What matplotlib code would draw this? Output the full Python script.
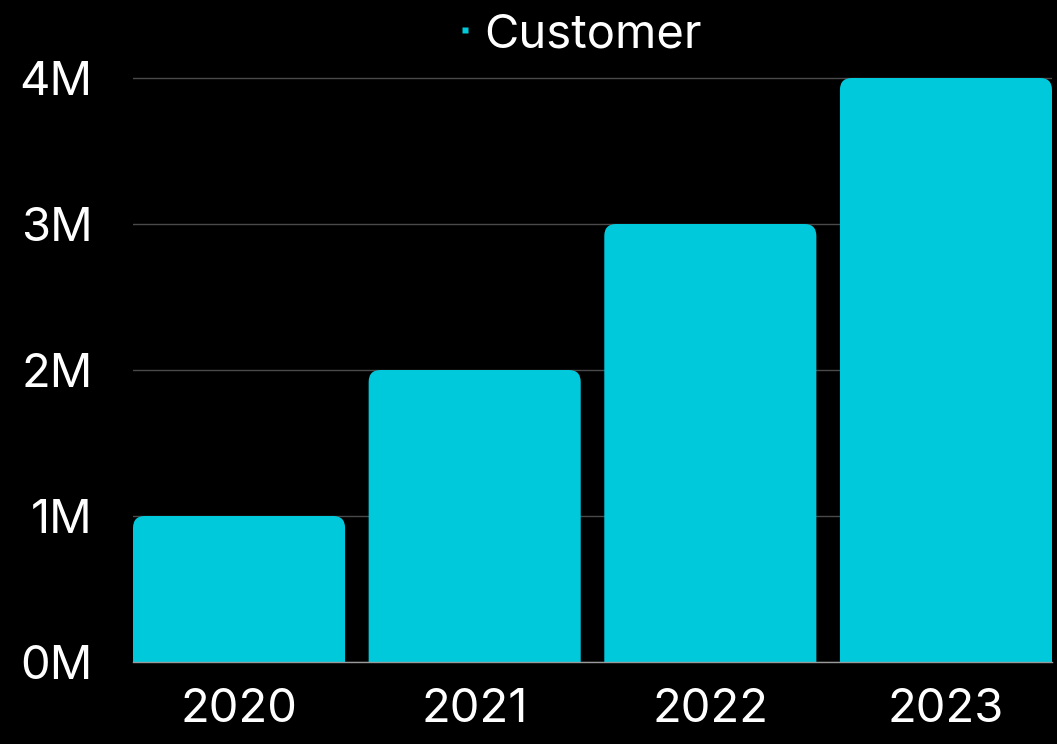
import matplotlib
matplotlib.use("Agg")
import matplotlib.pyplot as plt
from matplotlib.patches import FancyBboxPatch
from matplotlib.lines import Line2D

years = ["2020", "2021", "2022", "2023"]
customers = [1_000_000, 2_000_000, 3_000_000, 4_000_000]
yticks = [0, 1_000_000, 2_000_000, 3_000_000, 4_000_000]

bar_color = "#00C9DB"
plt.rcParams["font.family"] = ["Inter", "DejaVu Sans"]

W, H = 1057, 744
fig = plt.figure(figsize=(W / 100, H / 100), dpi=100, facecolor="black")
ax = fig.add_axes([133 / W, 82 / H, 919 / W, (662 - 63.4) / H], facecolor="black")

ax.set_xlim(-0.45, len(years) - 0.55)
ax.set_ylim(0, 4.1e6)

# pixel scales for the rounded tops
px_x = 919 / (len(years) - 0.1)        # px per x unit
px_y = (662 - 63.4) / 4.1e6            # px per y unit
rx = 12 / px_x
aspect = px_x / px_y

width = 0.9
for i, v in enumerate(customers):
    p = FancyBboxPatch((i - width / 2, -0.3e6), width, v + 0.3e6,
                       boxstyle=f"round,pad=0,rounding_size={rx}",
                       mutation_aspect=aspect,
                       facecolor=bar_color, edgecolor="none", zorder=3)
    ax.add_patch(p)

ax.set_xticks(range(len(years)))
ax.set_xticklabels(years)
ax.set_yticks(yticks)
ax.set_yticklabels([f"{int(t / 1e6)}M" for t in yticks])
ax.tick_params(axis="both", length=0, colors="white", labelsize=34, labelfontfamily="Inter")
ax.tick_params(axis="y", pad=29)
ax.tick_params(axis="x", pad=19)

ax.grid(axis="y", color="#4a4a4a", linewidth=1, zorder=0)
ax.set_axisbelow(True)
for s in ["top", "right", "left"]:
    ax.spines[s].set_visible(False)
ax.spines["bottom"].set_color("#9a9a9a")
ax.spines["bottom"].set_linewidth(1)
ax.spines["bottom"].set_zorder(4)

handle = Line2D([], [], marker="s", linestyle="none", markersize=4.5,
                markerfacecolor=bar_color, markeredgecolor="none")
fig.legend([handle], ["Customer"], loc="center", bbox_to_anchor=(580 / W, 1 - 35 / H),
           frameon=False, fontsize=34, labelcolor="white",
           handlelength=0.3, handletextpad=0.25, borderpad=0)

fig.savefig("out.png", dpi=100, facecolor="black")
